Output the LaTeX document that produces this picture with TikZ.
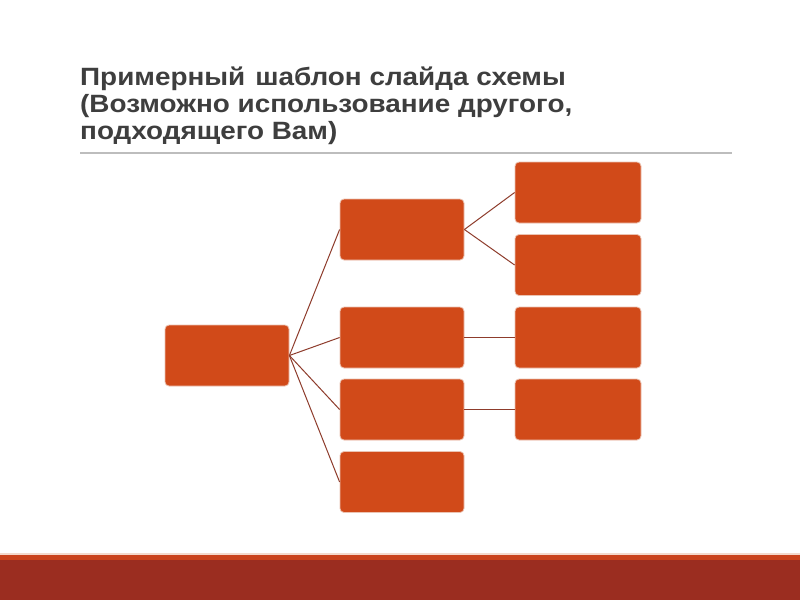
\documentclass[tikz,border=0pt]{standalone}
\usepackage{fontspec}
\setmainfont{Liberation Sans}
\newfontfamily\ttlfont{Liberation Sans}[FakeStretch=1.115]
\definecolor{boxfill}{HTML}{D14A19}
\definecolor{boxedge}{HTML}{EBC3B2}
\definecolor{conn}{HTML}{8E3C2C}
\definecolor{titlegray}{HTML}{3E3E3E}
\definecolor{rulegray}{HTML}{BDBDBD}
\definecolor{banddark}{HTML}{9B2D20}
\definecolor{bandorange}{HTML}{C9431D}
\definecolor{bandlight}{HTML}{F3D9CC}
\begin{document}
\begin{tikzpicture}[x=1pt,y=-1pt,
  blk/.style={fill=boxfill,draw=boxedge,line width=0.8pt,rounded corners=4pt,inner sep=0pt,minimum height=61pt},
  blkm/.style={blk,minimum width=124pt},
  blkr/.style={blk,minimum width=126pt},
  link/.style={draw=conn,line width=1pt},
  ttl/.style={anchor=base west,inner sep=0pt,text=titlegray,font=\ttlfont\fontsize{25}{27}\selectfont\bfseries}]
\useasboundingbox (0,0) rectangle (800,600);
\fill[white] (0,0) rectangle (800,600);
% title
\node[ttl] (t1) at (80,85) {Примерный\hspace{0.4em}шаблон слайда схемы};
\node[ttl] (t2) at (80,112) {(Возможно использование другого,};
\node[ttl] (t3) at (80,139) {подходящего Вам)};
\draw[rulegray,line width=1.5pt] (80,153) -- (732,153);
% boxes
\node[blkm] (root) at (227,355.5) {};
\node[blkm] (m1) at (402,229.5) {};
\node[blkm] (m2) at (402,337.5) {};
\node[blkm] (m3) at (402,409.5) {};
\node[blkm] (m4) at (402,482) {};
\node[blkr] (r1) at (578,192.5) {};
\node[blkr] (r2) at (578,265) {};
\node[blkr] (r3) at (578,337.5) {};
\node[blkr] (r4) at (578,409.5) {};
\draw[link] (root.east) -- (m1.west);
\draw[link] (root.east) -- (m2.west);
\draw[link] (root.east) -- (m3.west);
\draw[link] (root.east) -- (m4.west);
\draw[link] (m1.east) -- (r1.west);
\draw[link] (m1.east) -- (r2.west);
\draw[link] (m2.east) -- (r3.west);
\draw[link] (m3.east) -- (r4.west);
% bottom bands
\fill[bandlight] (0,552.5) rectangle (800,555);
\fill[bandorange] (0,555) rectangle (800,560);
\fill[banddark] (0,560) rectangle (800,600);
\end{tikzpicture}
\end{document}
